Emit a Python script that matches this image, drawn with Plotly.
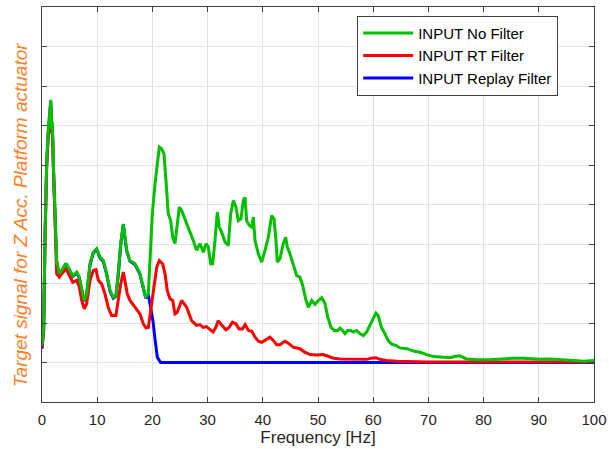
import plotly.graph_objects as go

# ---- data ----
f_green = [0, 0.3, 0.54, 0.85, 1.14, 1.58, 1.76, 1.87, 2.05, 2.35, 2.66, 3.13, 3.57, 4.35, 4.95,
           5.56, 6.29, 6.76, 7.37, 7.66, 8.10, 8.70, 9.29, 9.91, 10.51, 11.1, 11.72, 12.32, 12.92,
           13.4, 13.82, 14.26, 14.73, 15.04, 15.34, 15.94, 16.85, 17.75, 18.35, 18.79, 19.26, 19.57,
           19.98, 20.47, 20.89, 21.25, 21.68, 22.1, 22.46, 22.88, 23.3, 23.68, 24.09, 24.4, 24.87,
           25.3, 26.2, 26.8, 27.4, 28.0, 28.62, 29.22, 29.71, 30.13, 30.56, 30.92, 31.34, 31.76,
           32.12, 32.55, 33.15, 33.75, 34.18, 34.66, 35.14, 35.56, 36.05, 36.47, 36.78, 37.08,
           37.55, 37.99, 38.28, 38.59, 39.18, 39.8, 40.4, 41.0, 41.6, 42.03, 42.39, 42.63, 43.12,
           43.7, 44.15, 44.44, 44.93, 45.53, 46.14, 46.74, 47.23, 47.83, 48.24, 48.86, 49.46,
           50.05, 50.67, 51.27, 51.76, 52.36, 52.95, 53.57, 53.99, 54.47, 54.89, 55.38, 55.92,
           56.39, 57.0, 57.6, 58.2, 58.8, 59.4, 60.0, 60.5, 60.9, 61.5, 62.1, 62.7, 63.3, 64.2,
           64.86, 66.1, 67.3, 68.5, 69.7, 70.9, 72.7, 73.9, 74.8, 75.7, 76.9, 78.8, 81.2, 83.0,
           85.4, 87.2, 89.0, 90.2, 92.0, 93.8, 96.3, 98.1, 100]
v_green = [0.45, 0.9, 3.17, 5.1, 5.9, 6.65, 5.9, 6.1, 5.1, 3.6, 2.58, 2.25, 2.33, 2.51, 2.37,
           2.20, 2.29, 2.16, 1.74, 1.57, 1.74, 2.50, 2.79, 2.88, 2.67, 2.58, 2.25, 1.82, 1.65,
           1.70, 2.25, 3.01, 3.51, 3.17, 2.84, 2.58, 2.50, 2.25, 1.91, 1.65, 1.74, 2.58,
           3.76, 4.52, 5.11, 5.45, 5.41, 5.28, 4.61, 3.76, 3.60, 3.17, 3.01, 3.34, 3.93,
           3.85, 3.55, 3.30, 3.09, 2.84, 3.01, 2.79, 3.01, 2.92, 2.50, 2.50, 3.09, 3.81,
           3.43, 3.30, 3.05, 2.96, 3.76, 4.10, 3.93, 3.59, 3.64, 4.10, 4.18, 3.59,
           3.47, 3.43, 3.68, 3.09, 2.75, 2.54, 2.84, 3.17, 3.72, 3.64, 3.09, 2.54, 2.63,
           3.01, 3.17, 2.92, 2.75, 2.50, 2.20, 2.16, 1.95, 1.57, 1.40, 1.57, 1.47,
           1.57, 1.64, 1.49, 1.15, 0.89, 0.81, 0.81, 0.87, 0.81, 0.73, 0.81, 0.81,
           0.77, 0.81, 0.73, 0.68, 0.77, 0.94, 1.15, 1.25, 1.19, 0.89, 0.73, 0.56, 0.47, 0.43,
           0.37, 0.35, 0.29, 0.26, 0.20, 0.15, 0.13, 0.12, 0.15, 0.17, 0.09, 0.07, 0.07, 0.09,
           0.11, 0.11, 0.09, 0.08, 0.09, 0.08, 0.05, 0.03, 0.05]

f_red = [0, 0.3, 0.54, 0.85, 1.14, 1.58, 1.76, 1.87, 2.05, 2.35, 2.66, 3.13, 3.57, 4.35, 4.95,
         5.56, 6.29, 6.76, 7.19, 7.66, 8.10, 8.70, 9.29, 9.78, 10.2, 10.8, 11.4, 12.0, 12.6,
         13.4, 13.8, 14.26, 14.73, 15.04, 15.45, 15.94, 16.85, 17.75, 18.35, 18.84, 19.26,
         19.69, 20.17, 20.78, 21.25, 21.86, 22.28, 22.7, 23.2, 23.68, 24.09, 24.5, 25.3, 26.2,
         27.1, 28.0, 28.6, 29.2, 29.8, 30.4, 31.0, 31.5, 31.9, 32.6, 33.3, 33.9, 34.5, 35.1,
         35.7, 36.3, 36.8, 37.4, 38.0, 38.6, 39.2, 39.8, 40.6, 41.3, 41.9, 42.5, 43.1, 44.0,
         44.6, 45.5, 46.7, 47.6, 48.6, 49.8, 50.96, 51.9, 52.8, 54.0, 55.8, 57.6, 58.8, 59.7,
         60.5, 61.2, 62.4, 64.3, 67.0, 70.0, 80.0, 90.0, 100]
v_red = [0.4, 0.85, 3.1, 5.0, 5.8, 6.5, 5.8, 6.0, 5.0, 3.5, 2.25, 2.16, 2.25, 2.37, 2.20,
         2.03, 2.08, 1.91, 1.57, 1.36, 1.49, 2.08, 2.33, 2.35, 2.08, 1.99, 1.74, 1.40, 1.19,
         1.19, 1.57, 1.99, 2.29, 2.08, 1.74, 1.57, 1.40, 1.23, 0.98, 0.88, 0.89,
         1.32, 1.91, 2.41, 2.58, 2.50, 2.25, 1.82, 1.61, 1.57, 1.23, 1.27, 1.57, 1.40,
         1.06, 0.94, 0.96, 0.89, 0.91, 0.83, 0.77, 0.89, 1.06, 0.94, 0.83, 0.89, 1.02, 0.98,
         0.85, 0.85, 0.96, 0.81, 0.79, 0.64, 0.54, 0.51, 0.57, 0.64, 0.56, 0.45, 0.45, 0.54,
         0.49, 0.39, 0.35, 0.26, 0.20, 0.19, 0.20, 0.15, 0.11, 0.09, 0.08, 0.07, 0.08, 0.11,
         0.12, 0.08, 0.05, 0.03, 0.02, 0.01, 0.01, 0.01, 0.01]

f_blue = [0, 0.3, 0.54, 0.85, 1.14, 1.58, 1.76, 1.87, 2.05, 2.35, 2.66, 3.13, 3.57, 4.35, 4.95,
          5.56, 6.29, 6.76, 7.37, 7.66, 8.10, 8.70, 9.29, 9.91, 10.51, 11.1, 11.72, 12.32, 12.92,
          13.4, 13.82, 14.26, 14.73, 15.04, 15.34, 15.94, 16.85, 17.75, 18.35, 18.79, 19.26,
          19.7, 20.1, 20.5, 20.9, 21.5, 30, 50, 70, 100]
v_blue = [0.35, 0.8, 3.1, 5.0, 5.8, 6.6, 5.8, 6.0, 5.0, 3.5, 2.5, 2.2, 2.3, 2.5, 2.35,
          2.18, 2.27, 2.14, 1.72, 1.55, 1.72, 2.48, 2.77, 2.86, 2.65, 2.56, 2.23, 1.80, 1.63,
          1.68, 2.23, 2.99, 3.49, 3.15, 2.82, 2.56, 2.48, 2.23, 1.89, 1.63, 1.72,
          1.40, 1.06, 0.56, 0.13, 0.0, 0.0, 0.0, 0.0, 0.0]

names = ["INPUT No Filter", "INPUT RT Filter", "INPUT Replay Filter"]
x_ticks = [0, 10, 20, 30, 40, 50, 60, 70, 80, 90, 100]
y_title = "Target signal for Z Acc. Platform actuator"

fig = go.Figure()
fig.add_trace(go.Scatter(x=f_blue, y=v_blue, mode="lines", name=names[2],
                         line=dict(color="#0000FF", width=3)))
fig.add_trace(go.Scatter(x=f_red, y=v_red, mode="lines", name=names[1],
                         line=dict(color="#FF0000", width=3)))
fig.add_trace(go.Scatter(x=f_green, y=v_green, mode="lines", name=names[0],
                         line=dict(color="#00C000", width=3)))

axis_common = dict(showline=True, linecolor="#404040", linewidth=1, mirror="allticks",
                   ticks="inside", ticklen=5, tickcolor="#404040", automargin=False,
                   showgrid=True, gridcolor="#E3E3E3", gridwidth=1, zeroline=False)

fig.update_layout(
    width=609, height=449,
    margin=dict(l=42, r=15, t=7, b=47, autoexpand=False),
    paper_bgcolor="white", plot_bgcolor="white",
    font=dict(family="Liberation Sans, Arial", color="#262626"),
    showlegend=True,
    legend=dict(x=0.571, y=0.978, xanchor="left", yanchor="top",
                traceorder="reversed", bgcolor="white",
                bordercolor="#404040", borderwidth=1,
                font=dict(size=15, color="#000000"),
                itemwidth=50, tracegroupgap=0),
    xaxis=dict(range=[0, 100], tickvals=x_ticks, tickfont=dict(size=15, color="#262626"),
               ticklabelstandoff=4,
               title=dict(text="Frequency [Hz]", font=dict(size=17, color="#262626"), standoff=2),
               **axis_common),
    yaxis=dict(range=[-1, 9], dtick=1, tick0=0, showticklabels=False, **axis_common),
    annotations=[dict(text="<i>" + y_title + "</i>", textangle=-90,
                      xref="paper", yref="paper", x=-0.04, y=0.475,
                      xanchor="center", yanchor="middle", showarrow=False,
                      font=dict(size=19, color="#FF7F27"))],
)

fig.write_html("out.html")
